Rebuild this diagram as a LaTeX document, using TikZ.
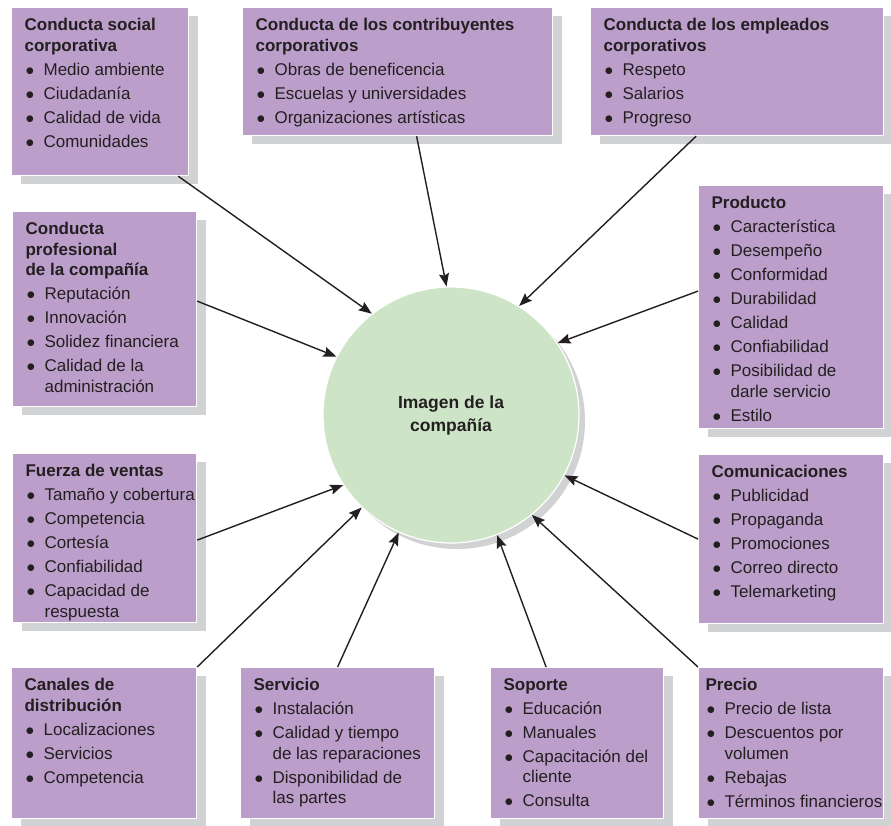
\documentclass[tikz,border=0pt]{standalone}
\usepackage{fontspec}
\setmainfont{Liberation Sans}
\usetikzlibrary{arrows.meta,shadows}
\definecolor{BoxLilac}{HTML}{BC9ECB}
\definecolor{CoreMint}{HTML}{CDE5C6}
\definecolor{InkGray}{HTML}{231F20}
\definecolor{ShadeGray}{HTML}{D1D2D4}
% bullet line with hanging indent
\newcommand{\itm}{\par\vspace{3.5pt}\hangindent=19pt\hangafter=1\noindent
  \hbox to 19pt{\hspace{1pt}$\bullet$\hfil}}
% fixed size panel, text at the top: [left pad], width, height, body
\newcommand{\panel}[4][13pt]{\parbox[c][#3][t]{#2}{\vspace{11pt}\hspace*{#1}%
  \parbox[t]{\dimexpr#2-#1-1pt\relax}{\raggedright#4}}}
\tikzset{
  % Lilac box with offset grey shadow
  cbox/.style={
    anchor=north west, fill=BoxLilac, draw=white, line width=1.2pt,
    inner sep=0pt, text=InkGray,
    drop shadow={shadow xshift=9pt, shadow yshift=-8pt, fill=ShadeGray, opacity=1}
  },
  % Central circle
  core/.style={
    circle, minimum size=256pt, fill=CoreMint, draw=white, line width=1.2pt,
    align=center, text=InkGray, font=\bfseries\fontsize{17.5}{23}\selectfont,
    drop shadow={shadow xshift=6pt, shadow yshift=-6pt, fill=ShadeGray, opacity=1}
  },
  % Arrow into the circle
  feed/.style={
    -{Stealth[length=13pt,width=10pt,inset=2pt]},
    line width=1.4pt, draw=InkGray
  }
}

\begin{document}
\begin{tikzpicture}[x=1pt, y=-1pt, every node/.style={font=\fontsize{17}{20.5}\selectfont}]
  \useasboundingbox (0,0) rectangle (891,826);

  % Top row
  \node[cbox] (social) at (11,7) {\panel{177pt}{168pt}{%
    {\bfseries Conducta social\newline corporativa}
    \itm Medio ambiente
    \itm Ciudadanía
    \itm Calidad de vida
    \itm Comunidades}};
  \node[cbox] (contrib) at (242,7) {\panel{310pt}{128pt}{%
    {\bfseries Conducta de los contribuyentes\newline corporativos}
    \itm Obras de beneficencia
    \itm Escuelas y universidades
    \itm Organizaciones artísticas}};
  \node[cbox] (empl) at (590,7) {\panel{293pt}{128pt}{%
    {\bfseries Conducta de los empleados\newline corporativos}
    \itm Respeto
    \itm Salarios
    \itm Progreso}};

  % Left column
  \node[cbox] (prof) at (12,211) {\panel{184pt}{195pt}{%
    {\bfseries Conducta\newline profesional\newline de la compañía}
    \itm Reputación
    \itm Innovación
    \itm Solidez financiera
    \itm Calidad de la\newline administración}};
  \node[cbox] (fuerza) at (12,453) {\panel{184pt}{169pt}{%
    {\bfseries Fuerza de ventas}
    \itm Tamaño y cobertura
    \itm Competencia
    \itm Cortesía
    \itm Confiabilidad
    \itm Capacidad de\newline respuesta}};

  % Right column
  \node[cbox] (prod) at (698,185) {\panel{185pt}{243pt}{%
    {\bfseries Producto}
    \itm Característica
    \itm Desempeño
    \itm Conformidad
    \itm Durabilidad
    \itm Calidad
    \itm Confiabilidad
    \itm Posibilidad de\newline darle servicio
    \itm Estilo}};
  \node[cbox] (comun) at (698,454) {\panel{185pt}{169pt}{%
    {\bfseries Comunicaciones}
    \itm Publicidad
    \itm Propaganda
    \itm Promociones
    \itm Correo directo
    \itm Telemarketing}};

  % Bottom row
  \node[cbox] (canal) at (11,667) {\panel{185pt}{151pt}{%
    {\bfseries Canales de\newline distribución}
    \itm Localizaciones
    \itm Servicios
    \itm Competencia}};
  \node[cbox] (serv) at (240,667) {\panel{194pt}{151pt}{%
    {\bfseries Servicio}
    \itm Instalación
    \itm Calidad y tiempo\newline de las reparaciones
    \itm Disponibilidad de\newline las partes}};
  \node[cbox] (sop) at (490,667) {\panel{173pt}{151pt}{%
    {\bfseries Soporte}
    \itm Educación
    \itm Manuales
    \itm Capacitación del\newline cliente
    \itm Consulta}};
  \node[cbox] (precio) at (698,667) {\panel[7pt]{185pt}{151pt}{%
    {\bfseries Precio}
    \itm Precio de lista
    \itm Descuentos por\newline volumen
    \itm Rebajas
    \itm \mbox{Términos financieros}}};

  % Centre
  \node[core] (img) at (451,415) {Imagen de la\\compañía};

  % Arrows
  \draw[feed] ([xshift=-11pt]social.south east) -- (img.128);
  \draw[feed] ([xshift=19pt]contrib.south) -- (img.92);
  \draw[feed] ([xshift=-41pt]empl.south) -- (img.58);
  \draw[feed] ([yshift=8pt]prof.east) -- (img.153);
  \draw[feed] ([yshift=16pt]prod.west) -- (img.34);
  \draw[feed] ([yshift=-2pt]fuerza.east) -- (img.213);
  \draw[feed] (comun.west) -- (img.332);
  \draw[feed] (canal.north east) -- (img.226);
  \draw[feed] (serv.north) -- (img.246);
  \draw[feed] ([xshift=-31pt]sop.north) -- (img.291);
  \draw[feed] (precio.north west) -- (img.309);

\end{tikzpicture}
\end{document}
